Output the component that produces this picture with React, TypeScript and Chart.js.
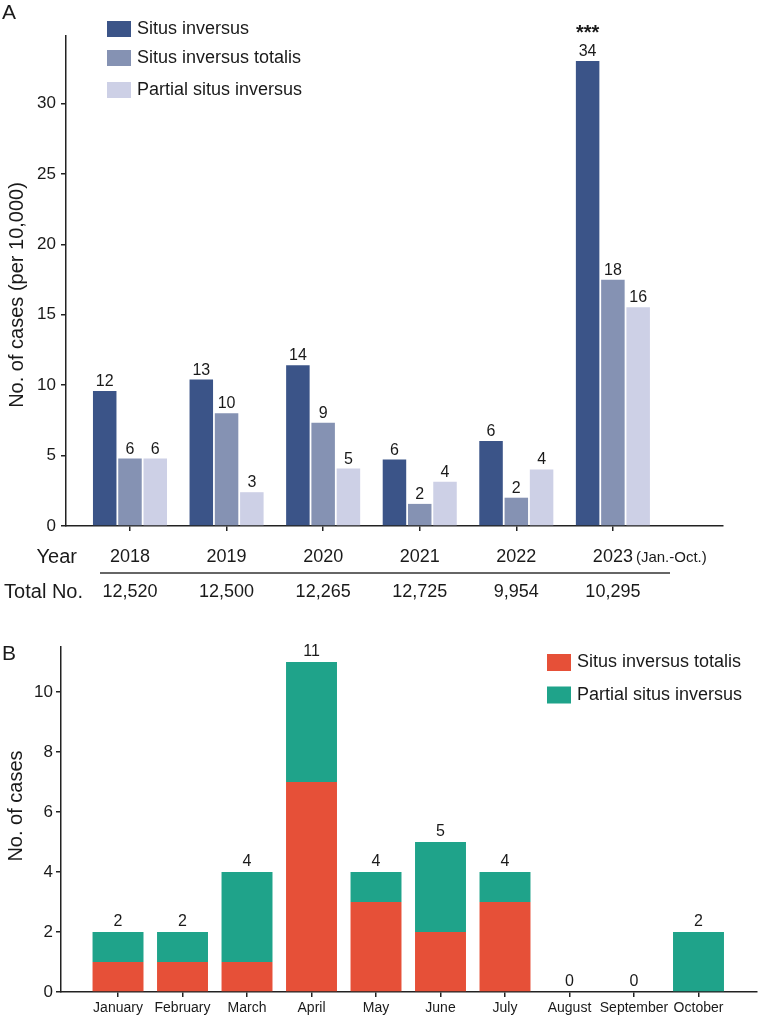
import React, { useEffect, useRef } from 'react';
import { Chart, registerables } from 'chart.js';

Chart.register(...registerables);

// ---------- Panel A data ----------
const years = ['2018', '2019', '2020', '2021', '2022', '2023'];
const yearNote = '(Jan.-Oct.)';
const totals = ['12,520', '12,500', '12,265', '12,725', '9,954', '10,295'];
const siRate = [9.58, 10.4, 11.41, 4.72, 6.03, 33.03];
const sitRate = [4.79, 8.0, 7.34, 1.57, 2.01, 17.48];
const psiRate = [4.79, 2.4, 4.08, 3.14, 4.02, 15.54];
const siCount = [12, 13, 14, 6, 6, 34];
const sitCount = [6, 10, 9, 2, 2, 18];
const psiCount = [6, 3, 5, 4, 4, 16];
const yTicksA = [0, 5, 10, 15, 20, 25, 30];
const seriesA = ['Situs inversus', 'Situs inversus totalis', 'Partial situs inversus'];
const yTitleA = 'No. of cases (per 10,000)';

// ---------- Panel B data ----------
const months = ['January', 'February', 'March', 'April', 'May', 'June', 'July', 'August', 'September', 'October'];
const sitMonthly = [1, 1, 1, 7, 3, 2, 3, 0, 0, 0];
const psiMonthly = [1, 1, 3, 4, 1, 3, 1, 0, 0, 2];
const yTicksB = [0, 2, 4, 6, 8, 10];
const seriesB = ['Situs inversus totalis', 'Partial situs inversus'];
const yTitleB = 'No. of cases';

// ---------- styles ----------
const FONT = "'Liberation Sans', Arial, Helvetica, sans-serif";
const TEXT = '#1a1a1a';
const AXIS = '#222222';
const colorsA = ['#3b5488', '#8592b3', '#cdd0e6'];
const colorsB = ['#e65038', '#1fa38a'];

const countsA = [siCount, sitCount, psiCount];

function txt(ctx: CanvasRenderingContext2D, s: string, x: number, y: number, size: number,
  align: CanvasTextAlign = 'center', baseline: CanvasTextBaseline = 'middle', weight = 'normal') {
  ctx.font = `${weight} ${size}px ${FONT}`;
  ctx.textAlign = align;
  ctx.textBaseline = baseline;
  ctx.fillStyle = TEXT;
  ctx.fillText(s, x, y);
}

const pts = (vals: number[]) => vals.map((y, i) => ({ x: i, y }));

const annotA = {
  id: 'annotA',
  afterDraw(chart: any) {
    const ctx: CanvasRenderingContext2D = chart.ctx;
    const xs = chart.scales.x;
    ctx.save();
    txt(ctx, 'A', 2, 19, 21, 'left', 'alphabetic');
    ctx.save();
    ctx.translate(17, 295);
    ctx.rotate(-Math.PI / 2);
    txt(ctx, yTitleA, 0, 0, 20, 'center', 'middle');
    ctx.restore();
    const legY = [29, 58, 90];
    seriesA.forEach((name, i) => {
      ctx.fillStyle = colorsA[i];
      ctx.fillRect(107, legY[i] - 8, 24, 16);
      txt(ctx, name, 137, legY[i], 18, 'left', 'middle');
    });
    chart.data.datasets.forEach((_ds: any, di: number) => {
      const meta = chart.getDatasetMeta(di);
      meta.data.forEach((el: any, i: number) => {
        txt(ctx, String(countsA[di][i]), el.x, el.y - 5, 16, 'center', 'alphabetic');
      });
    });
    const top = chart.getDatasetMeta(0).data[5];
    txt(ctx, '***', top.x, top.y - 22, 20, 'center', 'alphabetic', 'bold');
    const rowY = 557;
    const totY = 592;
    txt(ctx, 'Year', 77, rowY, 20, 'right', 'middle');
    txt(ctx, 'Total No.', 83, totY, 20, 'right', 'middle');
    years.forEach((yr, i) => {
      const x = xs.getPixelForValue(i);
      txt(ctx, yr, x, rowY, 18, 'center', 'middle');
      txt(ctx, totals[i], x, totY, 18, 'center', 'middle');
    });
    const x5 = xs.getPixelForValue(5);
    ctx.font = `18px ${FONT}`;
    const w = ctx.measureText(years[5]).width;
    txt(ctx, yearNote, x5 + w / 2 + 3, rowY + 1, 15, 'left', 'middle');
    ctx.strokeStyle = '#333';
    ctx.lineWidth = 1.5;
    ctx.beginPath();
    ctx.moveTo(100, 573);
    ctx.lineTo(670, 573);
    ctx.stroke();
    ctx.restore();
  },
};

const annotB = {
  id: 'annotB',
  afterDraw(chart: any) {
    const ctx: CanvasRenderingContext2D = chart.ctx;
    const ys = chart.scales.y;
    ctx.save();
    txt(ctx, 'B', 2, 45, 21, 'left', 'alphabetic');
    ctx.save();
    ctx.translate(16, 191);
    ctx.rotate(-Math.PI / 2);
    txt(ctx, yTitleB, 0, 0, 20, 'center', 'middle');
    ctx.restore();
    const legY = [47.5, 80];
    seriesB.forEach((name, i) => {
      ctx.fillStyle = colorsB[i];
      ctx.fillRect(547, legY[i] - 8.5, 24, 17);
      txt(ctx, name, 577, legY[i], 18, 'left', 'middle');
    });
    const meta = chart.getDatasetMeta(0);
    months.forEach((_m, i) => {
      const total = sitMonthly[i] + psiMonthly[i];
      const x = meta.data[i].x;
      const y = ys.getPixelForValue(total);
      txt(ctx, String(total), x, y - 6, 16, 'center', 'alphabetic');
    });
    ctx.restore();
  },
};

const axisGrid = (len: number) => ({
  display: true,
  drawOnChartArea: false,
  drawTicks: true,
  tickLength: len,
  color: AXIS,
  lineWidth: 1.5,
  offset: false,
});
const axisBorder = { display: true, color: AXIS, width: 1.5 };

export default function App() {
  const refA = useRef<HTMLCanvasElement>(null);
  const refB = useRef<HTMLCanvasElement>(null);

  useEffect(() => {
    const chartA = new Chart(refA.current as HTMLCanvasElement, {
      type: 'bar',
      data: {
        datasets: [
          { label: seriesA[0], data: pts(siRate), backgroundColor: colorsA[0], stack: 'a' },
          { label: seriesA[1], data: pts(sitRate), backgroundColor: colorsA[1], stack: 'b' },
          { label: seriesA[2], data: pts(psiRate), backgroundColor: colorsA[2], stack: 'c' },
        ] as any,
      },
      options: {
        animation: false,
        responsive: false,
        layout: { padding: { top: 36, right: 35, left: 0, bottom: 0 } },
        datasets: { bar: { categoryPercentage: 0.785, barPercentage: 0.93 } } as any,
        plugins: { legend: { display: false }, tooltip: { enabled: false } },
        scales: {
          x: {
            type: 'linear',
            min: -0.6625,
            max: 6.14,
            offset: false,
            afterBuildTicks: (s: any) => { s.ticks = years.map((_y, i) => ({ value: i })); },
            afterFit: (s: any) => { s.height = 89; },
            grid: axisGrid(5),
            border: axisBorder,
            ticks: { display: false },
          },
          y: {
            min: 0,
            max: 34.8,
            afterBuildTicks: (s: any) => { s.ticks = yTicksA.map((v) => ({ value: v })); },
            afterFit: (s: any) => { s.width = 66; },
            grid: axisGrid(5),
            border: axisBorder,
            ticks: { font: { family: FONT, size: 17 }, color: TEXT, padding: 5 },
          },
        } as any,
      },
      plugins: [annotA],
    });

    const chartB = new Chart(refB.current as HTMLCanvasElement, {
      type: 'bar',
      data: {
        datasets: [
          { label: seriesB[0], data: pts(sitMonthly), backgroundColor: colorsB[0], stack: 's' },
          { label: seriesB[1], data: pts(psiMonthly), backgroundColor: colorsB[1], stack: 's' },
        ] as any,
      },
      options: {
        animation: false,
        responsive: false,
        layout: { padding: { top: 32, right: 1, left: 0, bottom: 0 } },
        datasets: { bar: { categoryPercentage: 0.79, barPercentage: 1 } } as any,
        plugins: { legend: { display: false }, tooltip: { enabled: false } },
        scales: {
          x: {
            type: 'linear',
            min: -0.884,
            max: 9.907,
            offset: false,
            afterBuildTicks: (s: any) => { s.ticks = months.map((_m, i) => ({ value: i })); },
            afterFit: (s: any) => { s.height = 23; },
            grid: axisGrid(5),
            border: axisBorder,
            ticks: {
              autoSkip: false,
              maxRotation: 0,
              minRotation: 0,
              padding: 3,
              font: { family: FONT, size: 14 },
              color: TEXT,
              callback: (v: any) => months[Number(v)] ?? '',
            },
          },
          y: {
            min: 0,
            max: 11.5,
            stacked: true,
            afterBuildTicks: (s: any) => { s.ticks = yTicksB.map((v) => ({ value: v })); },
            afterFit: (s: any) => { s.width = 61; },
            grid: axisGrid(5),
            border: axisBorder,
            ticks: { font: { family: FONT, size: 17 }, color: TEXT, padding: 3 },
          },
        } as any,
      },
      plugins: [annotB],
    });

    return () => {
      chartA.destroy();
      chartB.destroy();
    };
  }, []);

  return (
    <div style={{ position: 'fixed', left: 0, top: 0, width: 758, height: 1015, background: '#ffffff' }}>
      <canvas ref={refA} width={758} height={615} style={{ position: 'absolute', left: 0, top: 0, width: 758, height: 615 }} />
      <canvas ref={refB} width={758} height={400} style={{ position: 'absolute', left: 0, top: 615, width: 758, height: 400 }} />
    </div>
  );
}
